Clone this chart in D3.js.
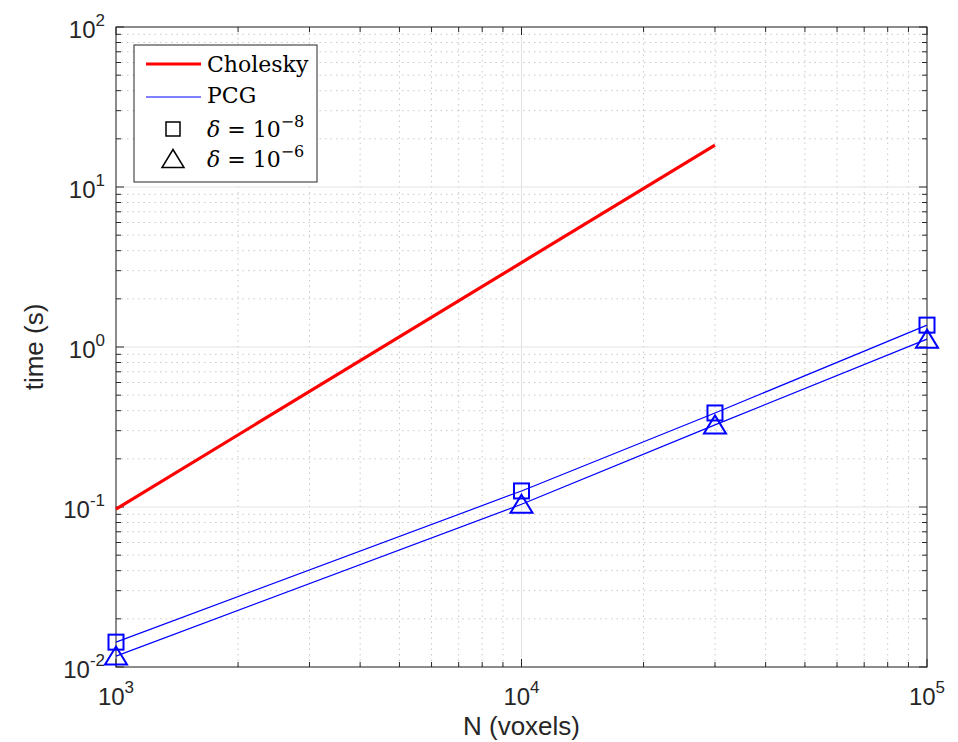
<!DOCTYPE html>
<html>
<head>
<meta charset="utf-8">
<script src="https://cdn.jsdelivr.net/npm/d3@7"></script>
<style>
  body { margin: 0; background: #fff; }
  .tick-label { font-family: "Liberation Sans", Arial, sans-serif; fill: #262626; }
  .legend-text { font-family: "DejaVu Serif", "Liberation Serif", serif; fill: #000; }
</style>
</head>
<body>
<div class="chart"></div>
<script>
// data
const nCholesky = [1000, 10000, 30000];
const tCholesky = [0.097, 3.37, 18.3];
const nPcg = [1000, 10000, 30000, 100000];
const tPcg8 = [0.0143, 0.126, 0.387, 1.37];   // delta = 1e-8, squares
const tPcg6 = [0.0117, 0.104, 0.326, 1.12];   // delta = 1e-6, triangles
const xDecades = [3, 4, 5];
const yDecades = [-2, -1, 0, 1, 2];

function drawChart() {
    const W = 958, H = 742;
    const margin = { top: 27, right: 31, bottom: 75, left: 116 };
    const width = W - margin.left - margin.right;
    const height = H - margin.top - margin.bottom;

    const svg = d3.select("div.chart").append("svg")
        .attr("width", W)
        .attr("height", H);
    const g = svg.append("g")
        .attr("transform", `translate(${margin.left},${margin.top})`);

    const x = d3.scaleLog().domain([1e3, 1e5]).range([0, width]);
    const y = d3.scaleLog().domain([1e-2, 1e2]).range([height, 0]);

    // minor positions 2..9 within each decade
    const minorX = [], minorY = [];
    for (let e = 3; e < 5; e++) for (let k = 2; k <= 9; k++) minorX.push(k * Math.pow(10, e));
    for (let e = -2; e < 2; e++) for (let k = 2; k <= 9; k++) minorY.push(k * Math.pow(10, e));
    const majorX = xDecades.map(e => Math.pow(10, e));
    const majorY = yDecades.map(e => Math.pow(10, e));

    // minor grid (dotted)
    g.append("g").selectAll("line").data(minorX).enter().append("line")
        .attr("x1", d => x(d)).attr("x2", d => x(d))
        .attr("y1", 0).attr("y2", height)
        .attr("stroke", "#c8c8c8").attr("stroke-dasharray", "1.5,4");
    g.append("g").selectAll("line").data(minorY).enter().append("line")
        .attr("y1", d => y(d)).attr("y2", d => y(d))
        .attr("x1", 0).attr("x2", width)
        .attr("stroke", "#c8c8c8").attr("stroke-dasharray", "1.5,4");

    // major grid
    g.append("g").selectAll("line").data(majorX).enter().append("line")
        .attr("x1", d => x(d)).attr("x2", d => x(d))
        .attr("y1", 0).attr("y2", height)
        .attr("stroke", "#e3e3e3");
    g.append("g").selectAll("line").data(majorY).enter().append("line")
        .attr("y1", d => y(d)).attr("y2", d => y(d))
        .attr("x1", 0).attr("x2", width)
        .attr("stroke", "#e3e3e3");

    // ticks on all four sides, pointing inward
    const tickCol = "#262626";
    const ticks = g.append("g").attr("stroke", tickCol);
    const addXTicks = (vals, len) => vals.forEach(v => {
        ticks.append("line").attr("x1", x(v)).attr("x2", x(v)).attr("y1", height).attr("y2", height - len);
        ticks.append("line").attr("x1", x(v)).attr("x2", x(v)).attr("y1", 0).attr("y2", len);
    });
    const addYTicks = (vals, len) => vals.forEach(v => {
        ticks.append("line").attr("y1", y(v)).attr("y2", y(v)).attr("x1", 0).attr("x2", len);
        ticks.append("line").attr("y1", y(v)).attr("y2", y(v)).attr("x1", width).attr("x2", width - len);
    });
    addXTicks(majorX, 8); addXTicks(minorX, 5);
    addYTicks(majorY, 8); addYTicks(minorY, 5);

    // axes box
    g.append("rect")
        .attr("width", width).attr("height", height)
        .attr("fill", "none").attr("stroke", tickCol).attr("stroke-width", 1);

    // tick labels 10^k
    xDecades.forEach(e => {
        const t = g.append("text").attr("class", "tick-label")
            .attr("x", x(Math.pow(10, e))).attr("y", height + 38)
            .attr("text-anchor", "middle");
        t.append("tspan").attr("font-size", 24).text("10");
        t.append("tspan").attr("font-size", 17).attr("dy", -12).text(e);
    });
    yDecades.forEach(e => {
        const t = g.append("text").attr("class", "tick-label")
            .attr("x", -11).attr("y", y(Math.pow(10, e)) + 11)
            .attr("text-anchor", "end");
        t.append("tspan").attr("font-size", 24).text("10");
        t.append("tspan").attr("font-size", 17).attr("dy", -12).text(e);
    });

    // axis labels
    g.append("text").attr("class", "tick-label")
        .attr("x", width / 2).attr("y", height + 68)
        .attr("text-anchor", "middle").attr("font-size", 26)
        .text("N (voxels)");
    g.append("text").attr("class", "tick-label")
        .attr("transform", `translate(-73,${height / 2}) rotate(-90)`)
        .attr("text-anchor", "middle").attr("font-size", 26)
        .text("time (s)");

    const line = d3.line().x(d => x(d[0])).y(d => y(d[1]));

    // Cholesky
    g.append("path")
        .datum(nCholesky.map((n, i) => [n, tCholesky[i]]))
        .attr("d", line).attr("fill", "none")
        .attr("stroke", "#ff0000").attr("stroke-width", 3.2);

    // PCG lines
    const sq = nPcg.map((n, i) => [n, tPcg8[i]]);
    const tr = nPcg.map((n, i) => [n, tPcg6[i]]);
    [sq, tr].forEach(s => g.append("path").datum(s).attr("d", line)
        .attr("fill", "none").attr("stroke", "#0000ff").attr("stroke-width", 1.2));

    // markers
    g.append("g").selectAll("rect").data(sq).enter().append("rect")
        .attr("x", d => x(d[0]) - 7.5).attr("y", d => y(d[1]) - 7.5)
        .attr("width", 15).attr("height", 15)
        .attr("fill", "none").attr("stroke", "#0000ff").attr("stroke-width", 2);
    const triPath = (cx, cy) => `M${cx},${cy - 9.5}L${cx + 11},${cy + 8.5}L${cx - 11},${cy + 8.5}Z`;
    g.append("g").selectAll("path").data(tr).enter().append("path")
        .attr("d", d => triPath(x(d[0]), y(d[1])))
        .attr("fill", "none").attr("stroke", "#0000ff").attr("stroke-width", 2);

    // legend
    const lg = svg.append("g").attr("transform", "translate(134,45)");
    lg.append("rect").attr("width", 183).attr("height", 137)
        .attr("fill", "#fff").attr("stroke", "#262626").attr("stroke-width", 1);
    lg.append("line").attr("x1", 12).attr("x2", 67).attr("y1", 19).attr("y2", 19)
        .attr("stroke", "#ff0000").attr("stroke-width", 3.2);
    lg.append("line").attr("x1", 12).attr("x2", 67).attr("y1", 52).attr("y2", 52)
        .attr("stroke", "#0000ff").attr("stroke-width", 1);
    lg.append("rect").attr("x", 32).attr("y", 77).attr("width", 14).attr("height", 14)
        .attr("fill", "none").attr("stroke", "#000").attr("stroke-width", 1.5);
    lg.append("path").attr("d", triPath(39, 114))
        .attr("fill", "none").attr("stroke", "#000").attr("stroke-width", 1.5);

    const legText = (yy, main) => lg.append("text").attr("class", "legend-text")
        .attr("x", 73).attr("y", yy).attr("font-size", 22).text(main);
    legText(27, "Cholesky");
    legText(58, "PCG");
    [["−8", 92], ["−6", 122]].forEach(([ex, yy]) => {
        const t = lg.append("text").attr("class", "legend-text")
            .attr("x", 73).attr("y", yy).attr("font-size", 22);
        t.append("tspan").attr("font-style", "italic").text("δ");
        t.append("tspan").text(" = 10");
        t.append("tspan").attr("font-size", 16).attr("dy", -10).text(ex);
    });
}

drawChart();
</script>
</body>
</html>
